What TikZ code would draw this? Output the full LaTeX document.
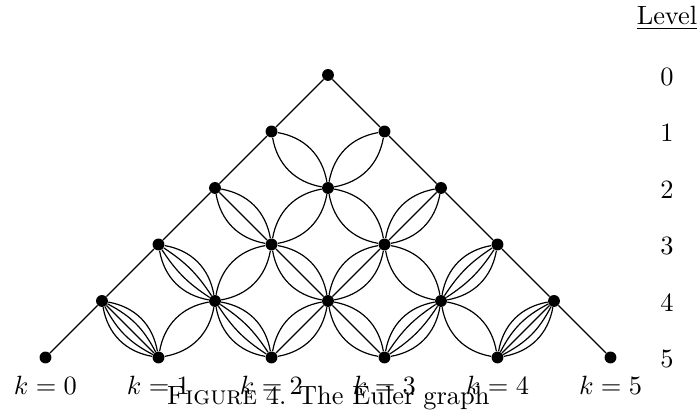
\documentclass[tikz,border=0pt]{standalone}
\usetikzlibrary{positioning}

\newcommand{\bendmax}{35}
% k-fold edge between two vertices, spread as a lens
\newcommand{\multiedge}[3]{%
  \ifnum#3=1\relax
    \draw[edge] (#1) -- (#2);
  \else
    \foreach \i in {1,...,#3} {
      \pgfmathsetmacro{\bnd}{\bendmax*(2*(\i-1)/(#3-1)-1)}
      \draw[edge] (#1) to[bend left=\bnd] (#2);
    }
  \fi}

\begin{document}
\begin{tikzpicture}[
    dot/.style={circle, fill=black, inner sep=0pt, minimum size=0.21cm},
    edge/.style={line width=0.6pt},
    lbl/.style={inner sep=0pt, anchor=base, scale=1.33, transform shape},
]
\useasboundingbox (-5.805,-6.018) rectangle (6.531,1.327);

% Vertices, level n, position k
\foreach \n in {0,...,5} {
    \foreach \k in {0,...,\n} {
        \node[dot] (v\n-\k) at ({2*\k-\n},{-\n}) {};
    }
}

% Edges: k+1 down-left, n-k+1 down-right
\foreach \n in {0,...,4} {
    \pgfmathtruncatemacro{\nn}{\n+1}
    \foreach \k in {0,...,\n} {
        \pgfmathtruncatemacro{\kk}{\k+1}
        \pgfmathtruncatemacro{\ml}{\k+1}
        \pgfmathtruncatemacro{\mr}{\n-\k+1}
        \multiedge{v\n-\k}{v\nn-\k}{\ml}
        \multiedge{v\n-\k}{v\nn-\kk}{\mr}
    }
}

% Level column
\node[lbl] (lev) at (6.0,0.885) {\underline{Level}};
\foreach \n in {0,...,5} {
    \node[lbl] (num\n) at (6.0,{-\n-0.18}) {\n};
}

% k labels under the bottom row
\foreach \k in {0,...,5} {
    \node[lbl] (k\k) at ({2*\k-5},-5.66) {$k=\k$};
}

% Caption
\node[lbl] (cap) at (0,-5.84) {\textsc{Figure} 4. The Euler graph};

\end{tikzpicture}
\end{document}
